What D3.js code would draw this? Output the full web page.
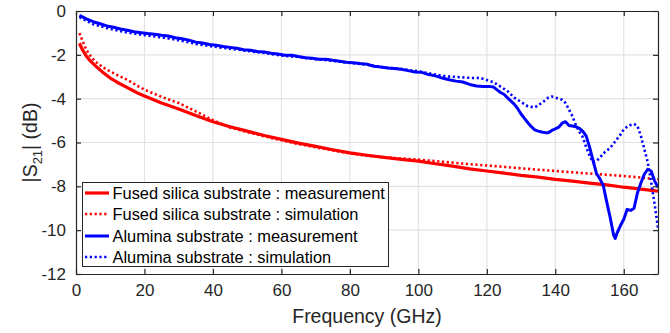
<!DOCTYPE html>
<html><head><meta charset="utf-8">
<script src="https://cdn.jsdelivr.net/npm/d3@7"></script>
<style>
html,body{margin:0;padding:0;background:#fff;}
svg{display:block;font-family:"Liberation Sans",Arial,Helvetica,sans-serif;}
</style></head>
<body><svg id="c" width="670" height="333"></svg>
<script>
// ---- data ----
const xTicks = [0,20,40,60,80,100,120,140,160];
const yTicks = [0,-2,-4,-6,-8,-10,-12];
const seriesNames = ["Fused silica substrate : measurement","Fused silica substrate : simulation","Alumina substrate : measurement","Alumina substrate : simulation"];

const fsMeasF = [1,2,3,4,5,6,8,10,12,15,18,20,25,30,35,40,45,50,55,60,65,70,75,80,85,90,95,100,105,110,115,120,125,130,135,140,145,150,155,160,165,170];
const fsMeasV = [-1.47,-1.8,-2.05,-2.25,-2.4,-2.55,-2.82,-3.06,-3.25,-3.5,-3.74,-3.88,-4.2,-4.47,-4.77,-5.05,-5.28,-5.48,-5.68,-5.86,-6.03,-6.18,-6.33,-6.47,-6.58,-6.68,-6.77,-6.85,-6.97,-7.08,-7.2,-7.3,-7.4,-7.5,-7.58,-7.68,-7.76,-7.85,-7.93,-8.04,-8.13,-8.22];

const fsSimF = [1,2,3,4,5,6,8,10,12,15,18,20,25,30,35,40,45,50,55,60,65,70,75,80,85,90,95,100,105,110,115,120,125,130,135,140,145,150,155,160,165,170];
const fsSimV = [-1.01,-1.4,-1.77,-2.0,-2.2,-2.35,-2.58,-2.76,-2.92,-3.14,-3.42,-3.59,-3.92,-4.2,-4.58,-4.98,-5.32,-5.52,-5.72,-5.9,-6.07,-6.22,-6.36,-6.5,-6.6,-6.68,-6.73,-6.78,-6.85,-6.92,-6.99,-7.05,-7.11,-7.18,-7.24,-7.3,-7.36,-7.42,-7.47,-7.53,-7.6,-7.68];

const alMeasF = [1,3,5,7,9,11,13,15,17,19,21,23,25,27,29,31,33,35,37,39,41,43,45,47,49,51,53,55,57,59,61,63,65,67,69,71,73,75,77,79,81,83,85,87,89,91,93,95,97,99,101,103,105,107,109,111,113,115,117,119,121,122,123,124,125,126,127,128,129,130,131,132,133,134,135,136,137,138,139,140,141,142,143,144,145,146,147,148,149,150,151,152,153,154,155,156,157,157.5,158,159,160,161,162,163,164,165,166,167,168,169,170];
const alMeasV = [-0.20,-0.36,-0.49,-0.58,-0.68,-0.74,-0.82,-0.88,-0.95,-0.99,-1.03,-1.06,-1.11,-1.14,-1.22,-1.27,-1.33,-1.42,-1.46,-1.53,-1.56,-1.62,-1.66,-1.70,-1.77,-1.79,-1.85,-1.87,-1.93,-1.96,-2.02,-2.02,-2.08,-2.13,-2.16,-2.20,-2.20,-2.25,-2.29,-2.34,-2.36,-2.40,-2.43,-2.52,-2.56,-2.60,-2.62,-2.66,-2.72,-2.78,-2.80,-2.90,-2.96,-3.06,-3.14,-3.20,-3.24,-3.35,-3.42,-3.44,-3.45,-3.47,-3.60,-3.72,-3.80,-3.95,-4.10,-4.25,-4.45,-4.70,-4.90,-5.10,-5.28,-5.42,-5.48,-5.52,-5.55,-5.55,-5.45,-5.38,-5.30,-5.12,-5.05,-5.22,-5.25,-5.28,-5.35,-5.48,-5.70,-6.20,-6.80,-7.40,-7.65,-7.95,-8.70,-9.40,-10.20,-10.38,-10.15,-9.80,-9.50,-9.05,-9.10,-9.00,-8.30,-7.85,-7.45,-7.22,-7.30,-7.75,-8.05];

const alSimF = [1,5,10,15,20,25,30,35,40,45,50,55,60,65,70,75,80,85,90,95,100,105,108,112,116,118,120,122,124,126,128,130,132,134,136,138,139,140,142,143,144,145,146,147,148,149,150,151,152,153,154,156,157,158,159,160,161,162,163,164,165,166,167,168,169,170];
const alSimV = [-0.28,-0.6,-0.82,-0.98,-1.1,-1.2,-1.33,-1.5,-1.62,-1.72,-1.82,-1.92,-2.03,-2.1,-2.2,-2.27,-2.37,-2.45,-2.57,-2.65,-2.75,-2.9,-2.98,-3.02,-3.06,-3.05,-3.15,-3.25,-3.45,-3.65,-3.95,-4.15,-4.35,-4.4,-4.2,-3.95,-3.9,-3.95,-4.05,-4.2,-4.5,-4.8,-5.2,-5.5,-5.75,-6.2,-6.6,-6.9,-6.85,-6.7,-6.5,-6.25,-6.05,-5.85,-5.65,-5.4,-5.28,-5.2,-5.15,-5.25,-5.7,-6.3,-6.9,-7.8,-8.8,-9.9];

// ---- chart ----
const svg = d3.select("#c");
const L=76, R=658, T=11, B=274;
const x = d3.scaleLinear().domain([0,170]).range([L,R]);
const y = d3.scaleLinear().domain([-12,0]).range([B,T]);
const axisCol = "#262626";

// grid
const g = svg.append("g");
g.selectAll(".gx").data(xTicks.filter(d=>d>0)).enter().append("line")
 .attr("x1",d=>x(d)).attr("x2",d=>x(d)).attr("y1",T).attr("y2",B)
 .attr("stroke","#e3e3e3").attr("stroke-width",1.2);
g.selectAll(".gy").data(yTicks.filter(d=>d>-12 && d<0)).enter().append("line")
 .attr("y1",d=>y(d)).attr("y2",d=>y(d)).attr("x1",L).attr("x2",R)
 .attr("stroke","#e3e3e3").attr("stroke-width",1.2);

// lines
svg.append("clipPath").attr("id","clip").append("rect")
 .attr("x",L).attr("y",T).attr("width",R-L).attr("height",B-T);
const line = d3.line().x(d=>x(d[0])).y(d=>y(d[1]));
const zip = (f,v)=>f.map((d,i)=>[d,v[i]]);
const series = [
 {d:zip(fsMeasF,fsMeasV), c:"#ff0000", dash:null, w:3.2},
 {d:zip(fsSimF,fsSimV), c:"#ff0000", dash:"2.2,2.6", w:2.6},
 {d:zip(alMeasF,alMeasV), c:"#0000ff", dash:null, w:3},
 {d:zip(alSimF,alSimV), c:"#0000ff", dash:"2.2,2.6", w:2.6}
];
const lg = svg.append("g").attr("clip-path","url(#clip)");
series.forEach(s=>{
 lg.append("path").attr("d",line(s.d)).attr("fill","none")
  .attr("stroke",s.c).attr("stroke-width",s.w)
  .attr("stroke-dasharray",s.dash).attr("stroke-linejoin","round");
});

// axes
const xa = svg.append("g").attr("transform",`translate(0,${B})`)
 .call(d3.axisBottom(x).tickValues(xTicks).tickSizeInner(-5).tickSizeOuter(0).tickPadding(10));
const xt = svg.append("g").attr("transform",`translate(0,${T})`)
 .call(d3.axisTop(x).tickValues(xTicks).tickSizeInner(-5).tickSizeOuter(0).tickFormat(""));
const ya = svg.append("g").attr("transform",`translate(${L},0)`)
 .call(d3.axisLeft(y).tickValues(yTicks).tickSizeInner(-5).tickSizeOuter(0).tickPadding(10));
const yr = svg.append("g").attr("transform",`translate(${R},0)`)
 .call(d3.axisRight(y).tickValues(yTicks).tickSizeInner(-5).tickSizeOuter(0).tickFormat(""));
[xa,xt,ya,yr].forEach(a=>{
 a.select(".domain").attr("stroke",axisCol).attr("stroke-width",1.2);
 a.selectAll(".tick line").attr("stroke",axisCol).attr("stroke-width",1.2);
 a.selectAll(".tick text").attr("fill",axisCol).attr("font-size",17).attr("font-family",null);
});
ya.selectAll(".tick text").text(d=>d<0 ? "-"+Math.abs(d) : d);

// axis labels
svg.append("text").attr("x",(L+R)/2).attr("y",323).attr("text-anchor","middle")
 .attr("font-size",19.5).attr("fill",axisCol).text("Frequency (GHz)");
const yl = svg.append("text").attr("transform",`translate(37,${(T+B)/2}) rotate(-90)`)
 .attr("text-anchor","middle").attr("font-size",19.5).attr("fill",axisCol);
yl.append("tspan").text("|S");
yl.append("tspan").attr("font-size",13).attr("dy",5).text("21");
yl.append("tspan").attr("dy",-5).text("| (dB)");

// legend
const leg = svg.append("g");
leg.append("rect").attr("x",82.5).attr("y",182.5).attr("width",306).attr("height",84)
 .attr("fill","#fff").attr("stroke",axisCol).attr("stroke-width",1);
const legY = [193,214,236,257];
seriesNames.forEach((n,i)=>{
 const s = series[i];
 leg.append("line").attr("x1",85).attr("x2",109).attr("y1",legY[i]).attr("y2",legY[i])
  .attr("stroke",s.c).attr("stroke-width",s.w).attr("stroke-dasharray",s.dash);
 leg.append("text").attr("x",112.5).attr("y",legY[i]+6).attr("font-size",16.4)
  .attr("fill","#000").text(n);
});
</script></body></html>
